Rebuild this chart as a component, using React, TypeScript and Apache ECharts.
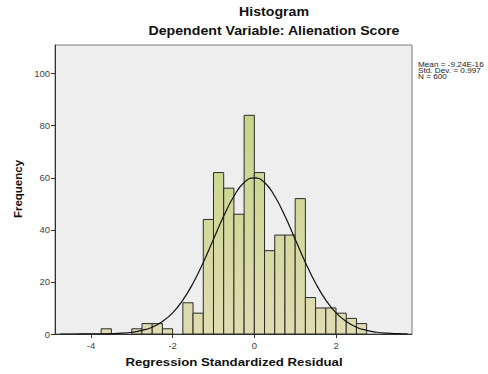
import React, { useEffect, useRef } from "react";
import * as echarts from "echarts";

// Histogram bins (lower edges) and counts
const binStarts = [
  -3.75, -3.5, -3.25, -3.0, -2.75, -2.5, -2.25, -2.0, -1.75, -1.5, -1.25, -1.0, -0.75,
  -0.5, -0.25, 0.0, 0.25, 0.5, 0.75, 1.0, 1.25, 1.5, 1.75, 2.0, 2.25, 2.5,
];
const binCounts = [
  2, 0, 0, 2, 4, 4, 2, 0, 12, 8, 44, 62, 56, 46, 84, 62, 32, 38, 38, 52, 14, 10, 10, 8, 6, 4,
];
const BIN_WIDTH = 0.25;

// Normal curve
const curveX = [
  -4.75, -4.5, -4.25, -4.0, -3.75, -3.5, -3.25, -3.0, -2.75, -2.5, -2.25, -2.0, -1.75, -1.5,
  -1.25, -1.0, -0.75, -0.5, -0.25, 0.0, 0.25, 0.5, 0.75, 1.0, 1.25, 1.5, 1.75, 2.0, 2.25,
  2.5, 2.75, 3.0, 3.25, 3.5, 3.75,
];
const curveY = [
  0.0, 0.0, 0.01, 0.02, 0.05, 0.13, 0.3, 0.67, 1.4, 2.6, 4.8, 8.1, 13.0, 19.5, 27.5, 36.4,
  45.3, 52.9, 58.2, 60.0, 58.2, 52.9, 45.3, 36.4, 27.5, 19.5, 13.0, 8.1, 4.8, 2.6, 1.4, 0.67,
  0.3, 0.13, 0.05,
];

const xTicks = [-4, -2, 0, 2];
const yTicks = [0, 20, 40, 60, 80, 100];

const titleText = "Histogram";
const subtitleText = "Dependent Variable: Alienation Score";
const xName = "Regression Standardized Residual";
const yName = "Frequency";
const statLines = ["Mean = -9.24E-16", "Std. Dev. = 0.997", "N = 600"];

const FONT = "'Liberation Sans', Arial, sans-serif";

export default function App() {
  const ref = useRef<HTMLDivElement>(null);

  useEffect(() => {
    if (!ref.current) return;
    const chart = echarts.init(ref.current, null, { renderer: "svg" });
    const barFill = new echarts.graphic.LinearGradient(
      0, 45, 0, 334,
      [
        { offset: 0, color: "#bfd27a" },
        { offset: 1, color: "#dfdcb2" },
      ],
      true
    );
    const option: any = {
      animation: false,
      backgroundColor: "#ffffff",
      grid: {
        left: 55,
        top: 45,
        width: 357,
        height: 289,
        show: true,
        backgroundColor: "#eeeeee",
        borderColor: "#7a7a7a",
        borderWidth: 1,
      },
      xAxis: {
        type: "value",
        min: -4.88,
        max: 3.86,
        splitLine: { show: false },
        axisLine: { show: true, onZero: false, lineStyle: { color: "#333", width: 1 } },
        axisTick: { show: true, length: 4, customValues: xTicks, lineStyle: { color: "#333" } },
        axisLabel: {
          customValues: xTicks,
          margin: 6,
          fontSize: 9.5,
          color: "#444",
          fontFamily: FONT,
        },
      },
      yAxis: {
        type: "value",
        min: 0,
        max: 111,
        splitLine: { show: false },
        axisLine: { show: true, onZero: false, lineStyle: { color: "#333", width: 1 } },
        axisTick: { show: true, length: 4, customValues: yTicks, lineStyle: { color: "#333" } },
        axisLabel: {
          customValues: yTicks,
          margin: 5,
          fontSize: 9.5,
          color: "#444",
          fontFamily: FONT,
        },
      },
      series: [
        {
          type: "custom",
          z: 2,
          data: binStarts.map((s, i) => [s, binCounts[i]]),
          renderItem: (params: any, api: any) => {
            const x0 = api.value(0);
            const c = api.value(1);
            if (!c) return null;
            const p0 = api.coord([x0, c]);
            const p1 = api.coord([x0 + BIN_WIDTH, 0]);
            return {
              type: "rect",
              shape: { x: p0[0], y: p0[1], width: p1[0] - p0[0], height: p1[1] - p0[1] },
              style: { fill: barFill, stroke: "#2b2b2b", lineWidth: 1 },
            };
          },
        },
        {
          type: "line",
          z: 3,
          data: curveX.map((x, i) => [x, curveY[i]]),
          smooth: true,
          showSymbol: false,
          symbol: "none",
          lineStyle: { color: "#111", width: 1.2 },
        },
      ],
      graphic: [
        {
          type: "text",
          x: 274,
          y: 12,
          scaleX: 1.18,
          style: {
            text: titleText,
            font: `bold 12px ${FONT}`,
            fill: "#111",
            textAlign: "center",
            textVerticalAlign: "middle",
          },
        },
        {
          type: "text",
          x: 274,
          y: 31,
          scaleX: 1.18,
          style: {
            text: subtitleText,
            font: `bold 12px ${FONT}`,
            fill: "#111",
            textAlign: "center",
            textVerticalAlign: "middle",
          },
        },
        {
          type: "text",
          x: 18,
          y: 189,
          rotation: Math.PI / 2,
          style: {
            text: yName,
            font: `bold 11.5px ${FONT}`,
            fill: "#111",
            textAlign: "center",
            textVerticalAlign: "middle",
          },
        },
        {
          type: "text",
          x: 234,
          y: 362,
          scaleX: 1.15,
          style: {
            text: xName,
            font: `bold 11.5px ${FONT}`,
            fill: "#111",
            textAlign: "center",
            textVerticalAlign: "middle",
          },
        },
        ...statLines.map((t, i) => ({
          type: "text",
          x: 418,
          y: 65 + i * 5.8,
          scaleX: 1.17,
          style: {
            text: t,
            font: `7px ${FONT}`,
            fill: "#222",
            textAlign: "left",
            textVerticalAlign: "middle",
          },
        })),
      ],
    };
    chart.setOption(option);
    return () => chart.dispose();
  }, []);

  return (
    <div
      ref={ref}
      style={{ position: "fixed", left: 0, top: 0, width: 488, height: 374, background: "#fff" }}
    />
  );
}
